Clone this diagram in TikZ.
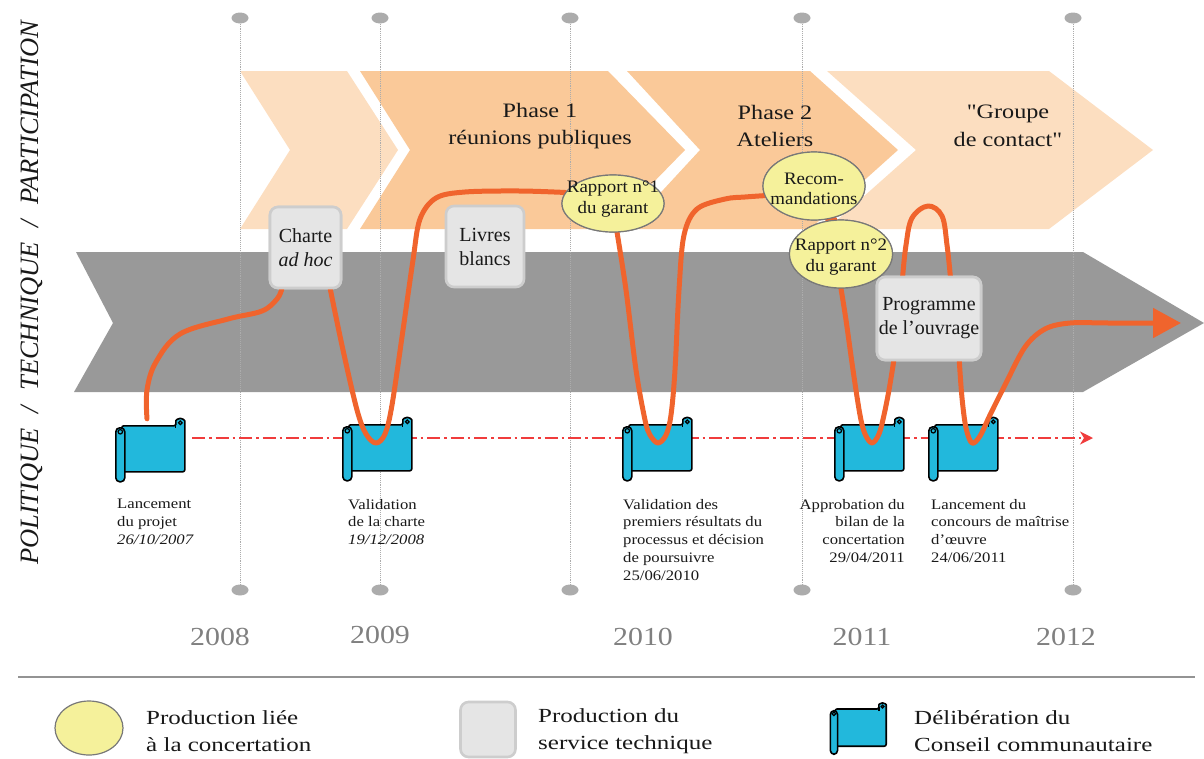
\documentclass[tikz,border=0pt]{standalone}
\usepackage{fontspec}
\setmainfont{Liberation Serif}
\newfontfamily\phasefont[FakeStretch=1.18]{Liberation Serif}
\newfontfamily\lblfont[FakeStretch=1.15]{Liberation Serif}
\newfontfamily\legfont[FakeStretch=1.25]{Liberation Serif}
\newfontfamily\yearfont[FakeStretch=1.15]{Liberation Serif}
\newfontfamily\ellfont[FakeStretch=1.08]{Liberation Serif}
\usetikzlibrary{shapes.geometric,arrows.meta,calc}

\definecolor{chlight}{RGB}{252,222,192}
\definecolor{chmed}{RGB}{250,201,153}
\definecolor{bandgray}{RGB}{153,153,153}
\definecolor{gridgray}{RGB}{172,172,172}
\definecolor{curveor}{RGB}{240,100,45}
\definecolor{dashred}{RGB}{240,60,60}
\definecolor{scrollblue}{RGB}{34,184,220}
\definecolor{boxfill}{RGB}{229,229,229}
\definecolor{boxline}{RGB}{205,205,205}
\definecolor{yellfill}{RGB}{245,241,155}
\definecolor{yellline}{RGB}{120,120,120}
\definecolor{yeargray}{RGB}{128,128,128}
\definecolor{textdark}{RGB}{25,25,25}

\tikzset{
  pics/scrollpic/.style={code={
    \draw[scrollpart, rounded corners=2] (6,7) -- (60,7) -- (60,4)
      arc[start angle=180, end angle=360, radius=4.5] -- (69,53) -- (6,53) -- cycle;
    \draw[line width=1.2] (64.5,4) circle[radius=1.8];
    \draw[line width=1.2] (60,4) -- (60,9);
    \draw[scrollpart, rounded corners=4] (0,9) rectangle (9,63);
    \draw[line width=1.2] (4.5,13) circle[radius=2.2];
  }},
  scrollpart/.style={fill=scrollblue, draw=black, line width=1.6, line join=round},
  sbox/.style={rectangle, minimum width=70, minimum height=64, inner sep=0},
  gbox/.style={rectangle, rounded corners=8, fill=boxfill, draw=boxline, line width=2.6,
    align=center, inner sep=0, text=textdark, font=\fontsize{20}{24}\selectfont},
  yell/.style={ellipse, fill=yellfill, draw=yellline, line width=1.2, inner sep=0},
  elltext/.style={align=center, inner sep=0, text=textdark, font=\ellfont\fontsize{17.5}{20.5}\selectfont},
  phasetext/.style={align=center, inner sep=0, text=textdark, font=\phasefont\fontsize{20.5}{27.5}\selectfont},
  lbltext/.style={align=left, inner sep=0, text=textdark, font=\lblfont\fontsize{14.5}{17.7}\selectfont},
  yeartext/.style={inner sep=0, text=yeargray, font=\yearfont\fontsize{26}{26}\selectfont},
  legtext/.style={align=left, inner sep=0, text=textdark, font=\legfont\fontsize{20}{27}\selectfont},
  gdot/.style={ellipse, fill=gridgray, minimum width=17, minimum height=11, inner sep=0},
  gridline/.style={draw=gridgray, line width=0.9, densely dotted},
  ocurve/.style={draw=curveor, line width=5, line cap=round, line join=round},
  reddash/.style={draw=dashred, line width=1.6, dash pattern=on 13pt off 4pt on 2.5pt off 4pt,
    -{Stealth[length=13pt, width=13pt, inset=4pt]}},
}

\begin{document}
\begin{tikzpicture}[x=1pt, y=-1pt]
\useasboundingbox (0,0) rectangle (1204,758);

% --- phase chevrons
\fill[chlight] (240,71) -- (347,71) -- (398,150) -- (347,229) -- (240,229) -- (290,150) -- cycle;
\fill[chmed] (360,71) -- (608,71) -- (685,150) -- (608,229) -- (360,229) -- (410,150) -- cycle;
\fill[chmed] (627,71) -- (810,71) -- (898,150) -- (810,229) -- (627,229) -- (700,150) -- cycle;
\fill[chlight] (827,71) -- (1049,71) -- (1153,150) -- (1049,229) -- (827,229) -- (916,150) -- cycle;

% --- technical band
\fill[bandgray] (76,252) -- (1083,252) -- (1204,323) -- (1083,392) -- (74,392) -- (113,323) -- cycle;

% --- year grid lines
\foreach \i/\x in {1/240,2/380,3/570,4/802,5/1073}{
  \node[gdot] (gt\i) at (\x,18) {};
  \node[gdot] (gb\i) at (\x,590) {};
  \draw[gridline] (gt\i) -- (gb\i);
}

% --- scroll nodes
\node[sbox] (sc1) at (151,451) {};
\node[sbox] (sc2) at (378,450) {};
\node[sbox] (sc3) at (658,450) {};
\node[sbox] (sc4) at (870,450) {};
\node[sbox] (sc5) at (964,450) {};

% --- red dash-dot timeline
\coordinate (redstart) at (192,438);
\coordinate (redend) at (1093,438);
\draw[reddash] (redstart) -- (redend);

\foreach \s in {sc1,sc2,sc3,sc4,sc5}{ \pic at (\s.north west) {scrollpic}; }

% --- boxes and ellipses
\node[gbox, minimum width=71, minimum height=81] (charte) at (305.5,247.5) {Charte\\\textit{ad hoc}};
\node[gbox, minimum width=78, minimum height=81] (livres) at (485,246.5) {Livres\\blancs};
\node[gbox, minimum width=104, minimum height=83] (programme) at (929,318.5) {Programme\\de l'ouvrage};
\node[yell, minimum width=102, minimum height=57] (rapport1) at (613,203.5) {};
\node[yell, minimum width=102, minimum height=68] (recom) at (814,186) {};
\node[yell, minimum width=103, minimum height=68] (rapport2) at (841,254) {};
\coordinate (oend) at (1181,323);

% --- orange process curve
\draw[ocurve] plot[smooth, tension=0.6] coordinates {([xshift=-4]sc1.north) (147,390) (156,362) (180,334) (228,319) (262,311) (277,299) ([xshift=13]charte.south west)};
\draw[ocurve] plot[smooth, tension=0.55] coordinates {([xshift=-12]charte.south east) (343,350) (357,410) (366,434) (376,443) (385,434) (392,405) (403,330) (413,260) (420,219) (436,198) (465,192) (520,191) (rapport1.167)};
\draw[ocurve] plot[smooth, tension=0.55] coordinates {(rapport1.-82) (626,290) (636,370) (645,420) (650,435) (658,443) (666,435) (671,415) (675,370) (679,290) (684,235) (697,209) (725,199) (745,197) (recom.191)};
\draw[ocurve] (recom.-68) -- (rapport2.100);
\draw[ocurve] plot[smooth, tension=0.55] coordinates {(rapport2.south) (846,320) (853,370) (860,415) (865,434) (872,443) (879,434) (884,415) (889,390) ([xshift=18]programme.south west)};
\draw[ocurve] plot[smooth, tension=0.6] coordinates {([xshift=27]programme.north west) (906,245) (912,218) (928,206) (942,216) (947,245) ([xshift=-32]programme.north east)};
\draw[ocurve, -{Triangle[length=28pt, width=29pt]}] plot[smooth, tension=0.55] coordinates {([xshift=-23]programme.south east) (962,398) (966,428) (972,443) (980,436) (990,415) (1005,385) (1025,347) (1045,329) (1070,323) (1110,323) (oend)};

% --- redraw boxes on top of curve ends
\node[gbox, minimum width=71, minimum height=81] at (charte) {Charte\\\textit{ad hoc}};
\node[gbox, minimum width=104, minimum height=83] at (programme) {Programme\\de l'ouvrage};
\node[yell, minimum width=102, minimum height=57] at (rapport1) {};
\node[yell, minimum width=102, minimum height=68] at (recom) {};
\node[yell, minimum width=103, minimum height=68] at (rapport2) {};
\node[elltext] (rapport1t) at (613,199) {Rapport n°1\\du garant};
\node[elltext] (recomt) at (814,189) {Recom-\\mandations};
\node[elltext] (rapport2t) at (841,257) {Rapport n°2\\du garant};

% --- phase titles
\node[phasetext] (ph1) at (540,126) {Phase 1\\réunions publiques};
\node[phasetext] (ph2) at (775,126) {Phase 2\\Ateliers};
\node[phasetext] (ph3) at (1008,126) {"Groupe\\de contact"};

% --- vertical axis title
\node[rotate=90, inner sep=0, text=textdark, font=\itshape\fontsize{26.5}{26.5}\selectfont] (vtitle) at (32,293) {POLITIQUE\hspace{15pt}/\hspace{15pt}TECHNIQUE\hspace{15pt}/\hspace{15pt}PARTICIPATION};

% --- scroll labels
\node[lbltext, anchor=north west] (l1) at (117,499) {Lancement\\du projet\\\textit{26/10/2007}};
\node[lbltext, anchor=north west] (l2) at (348,499) {Validation\\de la charte\\\textit{19/12/2008}};
\node[lbltext, anchor=north west] (l3) at (623,499) {Validation des\\premiers résultats du\\processus et décision\\de poursuivre\\25/06/2010};
\node[lbltext, align=right, anchor=north east] (l4) at (905,499) {Approbation du\\bilan de la\\concertation\\29/04/2011};
\node[lbltext, anchor=north west] (l5) at (931,499) {Lancement du\\concours de maîtrise\\d’œuvre\\24/06/2011};

% --- years
\node[yeartext] (y2008) at (220,637) {2008};
\node[yeartext] (y2009) at (380,635) {2009};
\node[yeartext] (y2010) at (643,637) {2010};
\node[yeartext] (y2011) at (862,637) {2011};
\node[yeartext] (y2012) at (1066,637) {2012};

% --- legend
\draw[draw=gray!85, line width=2] (18,677) -- (1195,677);
\node[yell, minimum width=68, minimum height=54] (legell) at (89,728) {};
\node[legtext, anchor=west] (legt1) at (146,731) {Production liée\\à la concertation};
\node[gbox, minimum width=55, minimum height=55] (legbox) at (488,729.5) {};
\node[legtext, anchor=west] (legt2) at (538,731) {Production du\\service technique};
\node[sbox, minimum width=57, minimum height=53] (legsc) at (859,730) {};
\pic[scale=0.81] at (legsc.north west) {scrollpic};
\node[legtext, anchor=west] (legt3) at (914,731) {Délibération du\\Conseil communautaire};
\end{tikzpicture}
\end{document}
